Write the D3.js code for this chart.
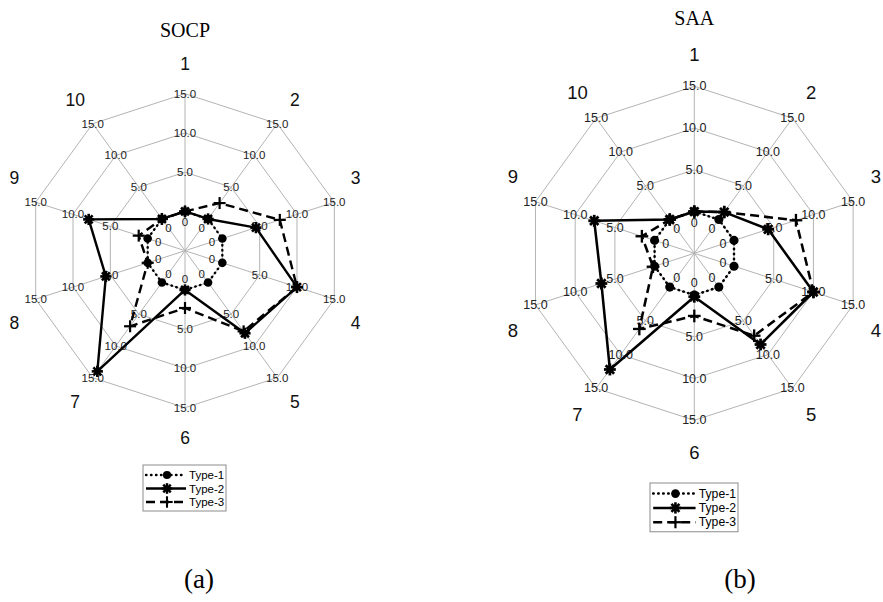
<!DOCTYPE html>
<html>
<head>
<meta charset="utf-8">
<script src="https://cdn.jsdelivr.net/npm/d3@7"></script>
<style>
  body { margin: 0; background: #fff; }
  svg { display: block; }
</style>
</head>
<body>
<svg id="chart" width="883" height="602"></svg>
<script>
// spokes, ticks, series
const axisNames = ["1", "2", "3", "4", "5", "6", "7", "8", "9", "10"];
const tickValues = [0, 5, 10, 15];
const tickLabels = ["0", "5.0", "10.0", "15.0"];
const seriesNames = ["Type-1", "Type-2", "Type-3"];

// (a) SOCP
const socpType1 = [0, 0, 0, 0, 0, 0, 0, 0, 0, 0];
const socpType2 = [0, 0, 4.5, 10, 8, 0, 14, 5.6, 7.9, 0];
const socpType3 = [0, 2.5, 7.7, 10, 7.7, 2.3, 6.9, 0, 1.2, 0];

// (b) SAA
const saaType1 = [0, 0, 0, 0, 0, 0, 0, 0, 0, 0];
const saaType2 = [0, 1.1, 4.3, 10, 8.5, 0.2, 12.2, 6.7, 7.6, 0];
const saaType3 = [0, 1.1, 7.8, 10, 7.2, 2.5, 6.2, 0.2, 1.6, 0];

const svg = d3.select("#chart");
const step = 2 * Math.PI / axisNames.length;

const styles = [
  { dash: "0.5,4.5", cap: "round", marker: "circle" },
  { dash: null, cap: "butt", marker: "star" },
  { dash: "9,5", cap: "butt", marker: "plus" }
];

function drawMarker(g, type, x, y, s) {
  if (type === "circle") {
    g.append("circle").attr("cx", x).attr("cy", y).attr("r", 4.3 * s).attr("fill", "#000");
  } else if (type === "star") {
    const r = 5.6 * s;
    [0, 45, 90, 135].forEach(a => {
      const t = a * Math.PI / 180;
      g.append("line")
        .attr("x1", x - Math.cos(t) * r).attr("y1", y - Math.sin(t) * r)
        .attr("x2", x + Math.cos(t) * r).attr("y2", y + Math.sin(t) * r)
        .attr("stroke", "#000").attr("stroke-width", 2.6 * s);
    });
    g.append("circle").attr("cx", x).attr("cy", y).attr("r", 3.2 * s).attr("fill", "#000");
  } else {
    const r = 6 * s;
    g.append("line").attr("x1", x - r).attr("y1", y).attr("x2", x + r).attr("y2", y)
      .attr("stroke", "#000").attr("stroke-width", 2.2 * s);
    g.append("line").attr("x1", x).attr("y1", y - r).attr("x2", x).attr("y2", y + r)
      .attr("stroke", "#000").attr("stroke-width", 2.2 * s);
  }
}

function drawRadar(opt) {
  const g = svg.append("g").attr("transform", `translate(${opt.cx},${opt.cy})`);
  const R = opt.R;
  const s = opt.scale;
  const r = d3.scaleLinear().domain([-5, 15]).range([0, R]);
  const px = (i, v) => Math.sin(i * step) * r(v);
  const py = (i, v) => -Math.cos(i * step) * r(v);

  const radial = d3.lineRadial()
    .angle((d, i) => i * step)
    .radius(d => r(d))
    .curve(d3.curveLinearClosed);

  // grid
  axisNames.forEach((a, i) => {
    g.append("line")
      .attr("x1", 0).attr("y1", 0)
      .attr("x2", px(i, 15)).attr("y2", py(i, 15))
      .attr("stroke", "#b4b4b4").attr("stroke-width", 1);
  });
  tickValues.forEach(t => {
    g.append("path")
      .attr("d", radial(axisNames.map(() => t)))
      .attr("fill", "none").attr("stroke", "#b4b4b4").attr("stroke-width", 1);
  });

  // tick labels on every spoke ("0" sits a little inside its ring)
  axisNames.forEach((a, i) => {
    tickValues.forEach((t, k) => {
      const inset = t === 0 ? 11 * s : 0;
      const rr = r(t) - inset;
      g.append("text")
        .attr("x", Math.sin(i * step) * rr).attr("y", -Math.cos(i * step) * rr)
        .attr("text-anchor", "middle")
        .attr("dominant-baseline", "central")
        .attr("font-family", "Liberation Sans, Arial, sans-serif")
        .attr("font-size", opt.tickFont)
        .attr("fill", "#222")
        .text(tickLabels[k]);
    });
  });

  // series
  opt.series.forEach((vals, si) => {
    const st = styles[si];
    g.append("path")
      .attr("d", radial(vals))
      .attr("fill", "none")
      .attr("stroke", "#000")
      .attr("stroke-width", 2.4 * s)
      .attr("stroke-linecap", st.cap)
      .attr("stroke-linejoin", "round")
      .attr("stroke-dasharray", st.dash);
    vals.forEach((v, i) => drawMarker(g, st.marker, px(i, v), py(i, v), s));
  });

  // category labels
  axisNames.forEach((a, i) => {
    const ang = i * step;
    const sn = Math.sin(ang), cs = -Math.cos(ang);
    let x = sn * R * 1.19, y = cs * R * 1.19;
    if (Math.abs(sn) > 0.9) {
      x -= Math.sign(sn) * R * 0.045;
      y += Math.sign(cs) * R * 0.095;
    }
    g.append("text")
      .attr("x", x).attr("y", y)
      .attr("text-anchor", "middle")
      .attr("dominant-baseline", "central")
      .attr("font-family", "Liberation Sans, Arial, sans-serif")
      .attr("font-size", opt.catFont)
      .attr("fill", "#111")
      .text(a);
  });

  // title
  svg.append("text")
    .attr("x", opt.cx).attr("y", opt.titleY)
    .attr("text-anchor", "middle")
    .attr("font-family", "Liberation Serif, DejaVu Serif, serif")
    .attr("font-size", 20)
    .text(opt.title);

  // legend
  const lg = svg.append("g").attr("transform", `translate(${opt.legendX},${opt.legendY})`);
  lg.append("rect")
    .attr("x", 0).attr("y", 0)
    .attr("width", 83 * s).attr("height", 46 * s)
    .attr("fill", "#fff").attr("stroke", "#8c8c8c").attr("stroke-width", 1);
  seriesNames.forEach((n, si) => {
    const st = styles[si];
    const yy = (10 + si * 13.5) * s;
    lg.append("line")
      .attr("x1", 3 * s).attr("y1", yy).attr("x2", 43 * s).attr("y2", yy)
      .attr("stroke", "#000").attr("stroke-width", 2.4 * s)
      .attr("stroke-linecap", st.cap)
      .attr("stroke-dasharray", st.dash);
    drawMarker(lg, st.marker, 24 * s, yy, s * 0.95);
    lg.append("text")
      .attr("x", 46 * s).attr("y", yy)
      .attr("dominant-baseline", "central")
      .attr("font-family", "Liberation Sans, Arial, sans-serif")
      .attr("font-size", 11.5 * s)
      .text(n);
  });

  // caption
  svg.append("text")
    .attr("x", opt.capX).attr("y", 588)
    .attr("text-anchor", "middle")
    .attr("font-family", "Liberation Serif, DejaVu Serif, serif")
    .attr("font-size", 27)
    .text(opt.caption);
}

drawRadar({
  cx: 185, cy: 250.7, R: 157, scale: 1,
  tickFont: 11.5, catFont: 17.5,
  series: [socpType1, socpType2, socpType3],
  title: "SOCP", titleY: 36.7,
  legendX: 143, legendY: 465,
  caption: "(a)", capX: 199
});

drawRadar({
  cx: 694.3, cy: 253.3, R: 167, scale: 1.06,
  tickFont: 12.5, catFont: 18.5,
  series: [saaType1, saaType2, saaType3],
  title: "SAA", titleY: 25,
  legendX: 650, legendY: 483,
  caption: "(b)", capX: 740
});
</script>
</body>
</html>
